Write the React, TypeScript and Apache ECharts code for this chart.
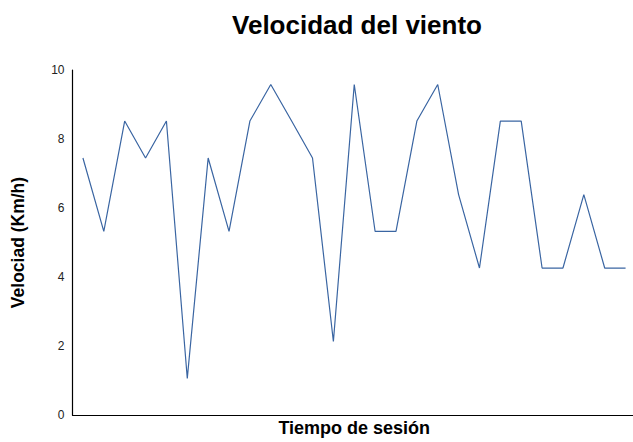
import React, { useEffect, useRef } from "react";
import * as echarts from "echarts";

const titleText = "Velocidad del viento";
const xAxisName = "Tiempo de sesión";
const yAxisName = "Velociad (Km/h)";

const categories = [
  "1", "2", "3", "4", "5", "6", "7", "8", "9", "10",
  "11", "12", "13", "14", "15", "16", "17", "18", "19", "20",
  "21", "22", "23", "24", "25", "26", "27",
];

const speeds = [
  7.45, 5.32, 8.52, 7.45, 8.52, 1.06, 7.45, 5.32, 8.52, 9.58,
  8.52, 7.45, 2.13, 9.58, 5.32, 5.32, 8.52, 9.58, 6.39, 4.26,
  8.52, 8.52, 4.26, 4.26, 6.39, 4.26, 4.26,
];

const FONT = "'Liberation Sans', Arial, Helvetica, sans-serif";

export default function App() {
  const ref = useRef<HTMLDivElement>(null);

  useEffect(() => {
    if (!ref.current) return;
    document.body.style.overflow = "hidden";
    const chart = echarts.init(ref.current, undefined, { renderer: "svg" });
    chart.setOption({
      animation: false,
      backgroundColor: "#ffffff",
      textStyle: { fontFamily: FONT },
      graphic: [
        {
          type: "text",
          x: 357,
          y: 24.5,
          style: {
            text: titleText,
            fontFamily: FONT,
            fontSize: 26,
            fontWeight: "bold",
            fill: "#000000",
            align: "center",
            verticalAlign: "middle",
          },
        },
      ],
      grid: {
        left: 72.5,
        top: 70,
        width: 563.5,
        height: 346.7,
        containLabel: false,
      },
      xAxis: {
        type: "category",
        data: categories,
        boundaryGap: true,
        name: xAxisName,
        nameLocation: "middle",
        nameGap: 4,
        nameTextStyle: {
          fontFamily: FONT,
          fontSize: 18,
          fontWeight: "bold",
          color: "#000000",
          verticalAlign: "top",
        },
        axisLine: { show: true, lineStyle: { color: "#000000", width: 1.2 } },
        axisTick: { show: false },
        axisLabel: { show: false },
        splitLine: { show: false },
      },
      yAxis: {
        type: "value",
        min: 0,
        max: 10,
        interval: 2,
        name: yAxisName,
        nameLocation: "middle",
        nameGap: 46,
        nameTextStyle: {
          fontFamily: FONT,
          fontSize: 17.5,
          fontWeight: "bold",
          color: "#000000",
        },
        axisLine: { show: true, lineStyle: { color: "#000000", width: 1.2 } },
        axisTick: { show: false },
        axisLabel: {
          fontFamily: FONT,
          fontSize: 12,
          color: "#222222",
          margin: 8,
        },
        splitLine: { show: false },
      },
      series: [
        {
          type: "line",
          data: speeds,
          symbol: "none",
          lineStyle: { color: "#3a65a2", width: 1.2 },
          itemStyle: { color: "#3a65a2" },
        },
      ],
    });
    return () => chart.dispose();
  }, []);

  return (
    <div
      ref={ref}
      style={{ position: "fixed", left: 0, top: 0, width: 640, height: 442 }}
    />
  );
}
